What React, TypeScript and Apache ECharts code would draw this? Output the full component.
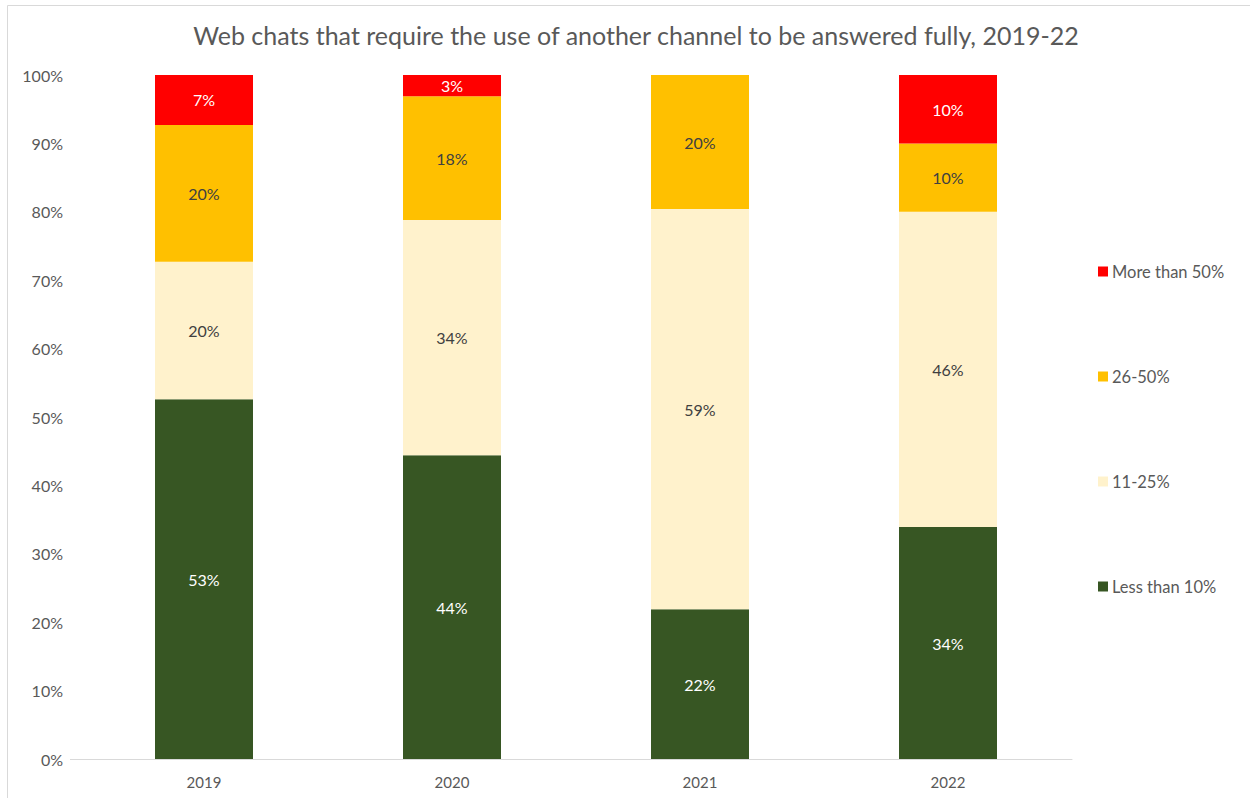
import React, { useEffect, useRef } from "react";
import * as echarts from "echarts";

const years = ["2019", "2020", "2021", "2022"];
const lessThan10 = [52.6, 44.4, 21.9, 33.9];
const from11to25 = [20.1, 34.4, 58.5, 46.1];
const from26to50 = [20.0, 18.1, 19.6, 10.0];
const moreThan50 = [7.3, 3.1, null, 10.0];
const yTicks = { min: 0, max: 100, interval: 10 };

const FONT = "Lato, 'Open Sans', sans-serif";
const TXT = "#595959";

export default function App() {
  const ref = useRef<HTMLDivElement>(null);
  useEffect(() => {
    if (!ref.current) return;
    const chart = echarts.init(ref.current, null, { renderer: "svg" });
    const mk = (name: string, data: (number | null)[], color: string, labelColor: string) => ({
      name,
      type: "bar",
      stack: "total",
      data,
      barWidth: 98,
      itemStyle: { color },
      label: {
        show: true,
        position: "inside",
        color: labelColor,
        fontFamily: FONT,
        fontSize: 16,
        formatter: (p: any) => (p.value == null || p.value === 0 ? "" : Math.round(p.value) + "%"),
      },
    });
    chart.setOption({
      animation: false,
      backgroundColor: "#ffffff",
      textStyle: { fontFamily: FONT },
      title: {
        text: "Web chats that require the use of another channel to be answered fully, 2019-22",
        left: 631,
        textAlign: "center",
        top: 17,
        textStyle: { fontFamily: FONT, fontSize: 25, fontWeight: "normal", color: TXT },
      },
      legend: {
        orient: "vertical",
        left: 1093,
        top: 258,
        itemWidth: 10,
        itemHeight: 10,
        itemGap: 88,
        icon: "rect",
        data: ["More than 50%", "26-50%", "11-25%", "Less than 10%"],
        textStyle: { fontFamily: FONT, fontSize: 16.5, color: TXT, padding: [0, 0, 0, -1] },
      },
      grid: { left: 80, right: 178, top: 75, bottom: 39, containLabel: false },
      xAxis: {
        type: "category",
        data: years,
        axisLine: { lineStyle: { color: "#D9D9D9", width: 1 } },
        axisTick: { show: false },
        axisLabel: { color: TXT, fontFamily: FONT, fontSize: 15, margin: 15 },
      },
      yAxis: {
        type: "value",
        min: yTicks.min,
        max: yTicks.max,
        interval: yTicks.interval,
        splitLine: { show: false },
        axisLine: { show: false },
        axisTick: { show: false },
        axisLabel: { color: TXT, fontFamily: FONT, fontSize: 16, margin: 17, formatter: "{value}%" },
      },
      graphic: [
        { type: "line", shape: { x1: 7.5, y1: 5.5, x2: 1250, y2: 5.5 }, style: { stroke: "#D9D9D9", lineWidth: 1 } },
        { type: "line", shape: { x1: 7.5, y1: 5.5, x2: 7.5, y2: 798 }, style: { stroke: "#D9D9D9", lineWidth: 1 } },
        { type: "line", shape: { x1: 70, y1: 759.5, x2: 80, y2: 759.5 }, style: { stroke: "#D9D9D9", lineWidth: 1 } },
      ],
      series: [
        mk("Less than 10%", lessThan10, "#375623", "#ffffff"),
        mk("11-25%", from11to25, "#FFF2CC", "#404040"),
        mk("26-50%", from26to50, "#FFC000", "#404040"),
        mk("More than 50%", moreThan50, "#FF0000", "#ffffff"),
      ],
    });
    return () => chart.dispose();
  }, []);
  return <div ref={ref} style={{ width: 1250, height: 798, position: "absolute", left: 0, top: 0 }} />;
}
